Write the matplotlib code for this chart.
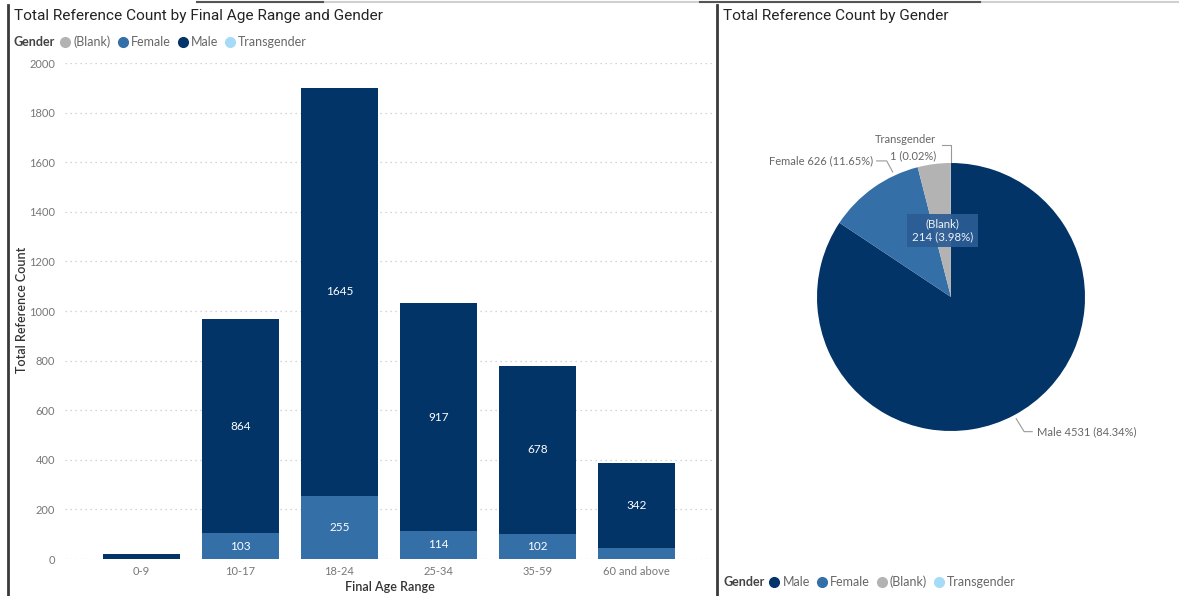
import matplotlib
matplotlib.use("Agg")
import matplotlib.pyplot as plt
import numpy as np
from matplotlib.lines import Line2D

# data
age_ranges = ["0-9", "10-17", "18-24", "25-34", "35-59", "60 and above"]
female_counts = [0, 103, 255, 114, 102, 45]
male_counts = [22, 864, 1645, 917, 678, 342]

pie_labels = ["Male", "Female", "(Blank)", "Transgender"]
pie_values = [4531, 626, 214, 1]

legend_left = ["(Blank)", "Female", "Male", "Transgender"]
legend_right = ["Male", "Female", "(Blank)", "Transgender"]

colors = {"Male": "#033468", "Female": "#346FA7", "(Blank)": "#B3B3B3",
          "Transgender": "#A6DBF8"}

W, H = 1179, 596
plt.rcParams["font.family"] = ["Lato", "DejaVu Sans"]

fig = plt.figure(figsize=(W / 100, H / 100), dpi=100)


def fx(x):
    return x / W


def fy(y):
    return 1 - y / H


# panel frames
for x0 in (8, 717):
    fig.add_artist(Line2D([fx(x0), fx(x0)], [fy(5), fy(H)], color="#3a3a3a", lw=2))
fig.add_artist(Line2D([fx(197), fx(1179)], [fy(2), fy(2)], color="#d0d0d0", lw=1.5))
fig.add_artist(Line2D([fx(197), fx(323)], [fy(2), fy(2)], color="#555555", lw=1.5))
fig.add_artist(Line2D([fx(700), fx(980)], [fy(2), fy(2)], color="#555555", lw=1.5))

title_kw = dict(fontsize=11.1, color="#252423", va="center", family=["Roboto", "DejaVu Sans"])
fig.text(fx(14), fy(16), "Total Reference Count by Final Age Range and Gender", **title_kw)
fig.text(fx(723), fy(16), "Total Reference Count by Gender", **title_kw)

# ---- stacked bar chart
ax = fig.add_axes([fx(65), fy(559), fx(712) - fx(65), fy(63) - fy(559)])
x = np.arange(len(age_ranges))
bw = 0.78
ax.bar(x, female_counts, bw, color=colors["Female"], zorder=2)
ax.bar(x, male_counts, bw, bottom=female_counts, color=colors["Male"], zorder=2)
for i in range(len(x)):
    for val, bottom in ((female_counts[i], 0), (male_counts[i], female_counts[i])):
        if val >= 60:
            ax.text(x[i], bottom + val / 2, str(val), ha="center", va="center",
                    color="white", fontsize=8.5)
ax.set_xlim(-0.77, 5.76)
ax.set_ylim(0, 2000)
ax.set_yticks(np.arange(0, 2001, 200))
ax.set_xticks(x)
ax.set_xticklabels(age_ranges)
ax.tick_params(length=0, labelsize=8, labelcolor="#777777")
ax.tick_params(axis="y", pad=7)
ax.tick_params(axis="x", pad=5)
ax.grid(axis="y", color="#c8c8c8", linestyle=(0, (1, 3)), lw=0.9, zorder=0)
for s in ax.spines.values():
    s.set_visible(False)

fig.text(fx(22), fy(310), "Total Reference Count", rotation=90, ha="center", va="center",
         fontsize=9, color="#333333", fontweight="semibold")
fig.text(fx(390), fy(587), "Final Age Range", ha="center", va="center",
         fontsize=9, color="#333333", fontweight="semibold")


def legend_row(x_title, y, names):
    fig.text(fx(x_title), fy(y), "Gender", fontsize=9, fontweight="bold",
             color="#444444", va="center")
    handles = [Line2D([], [], marker="o", ls="", ms=7, mfc=colors[n], mec=colors[n])
               for n in names]
    fig.legend(handles, names, loc="center left", bbox_to_anchor=(fx(x_title + 47), fy(y)),
               ncol=4, frameon=False, handlelength=0.7, handletextpad=0.3,
               columnspacing=0.6, borderpad=0, borderaxespad=0, fontsize=9,
               labelcolor="#666666")


legend_row(14, 42, legend_left)
legend_row(723, 582, legend_right)

# ---- pie chart
cx, cy, r = 951, 297, 134
axp = fig.add_axes([fx(cx - r), fy(cy + r), 2 * r / W, 2 * r / H])
wedges, _ = axp.pie(pie_values, colors=[colors[n] for n in pie_labels], startangle=90,
                    counterclock=False, radius=1, wedgeprops=dict(linewidth=0))
axp.set_xlim(-1, 1)
axp.set_ylim(-1, 1)
axp.set_aspect("equal")
axp.axis("off")

total = sum(pie_values)
pct = [v / total * 100 for v in pie_values]
lbl_kw = dict(fontsize=8, color="#666666", va="center")
lead_kw = dict(color="#999999", lw=0.8, clip_on=False)
u = 1 / r  # one pixel in pie units

# Male
t = np.deg2rad((wedges[0].theta1 + wedges[0].theta2) / 2)
p0 = np.array([np.cos(t), np.sin(t)]) * 1.03
p1 = p0 + [8 * u, -13 * u]
p2 = p1 + [8 * u, 0]
axp.plot([p0[0], p1[0], p2[0]], [p0[1], p1[1], p2[1]], **lead_kw)
axp.text(p2[0] + 5 * u, p2[1], f"Male {pie_values[0]} ({pct[0]:.2f}%)", ha="left", **lbl_kw)

# Female
t = np.deg2rad(115)
p0 = np.array([np.cos(t), np.sin(t)]) * 1.03
p1 = p0 + [-6 * u, 11 * u]
p2 = p1 + [-10 * u, 0]
axp.plot([p0[0], p1[0], p2[0]], [p0[1], p1[1], p2[1]], **lead_kw)
axp.text(p2[0] - 4 * u, p2[1], f"Female {pie_values[1]} ({pct[1]:.2f}%)", ha="right", **lbl_kw)

# Transgender
t = np.deg2rad(wedges[3].theta2)
p0 = np.array([np.cos(t), np.sin(t)]) * 1.01
p1 = p0 + [0, 17 * u]
p2 = p1 + [-9 * u, 0]
axp.plot([p0[0], p1[0], p2[0]], [p0[1], p1[1], p2[1]], **lead_kw)
axp.text(p2[0] - 6 * u, p2[1] + 5 * u, "Transgender", ha="right", **lbl_kw)
axp.text(p2[0] - 6 * u, p2[1] - 11 * u, f"{pie_values[3]} ({pct[3]:.2f}%)", ha="right", **lbl_kw)

# (Blank) label inside
t = np.deg2rad((wedges[2].theta1 + wedges[2].theta2) / 2)
axp.text(0.5 * np.cos(t), 0.5 * np.sin(t), f"(Blank)\n{pie_values[2]} ({pct[2]:.2f}%)",
         ha="center", va="center", fontsize=8.3, color="#eef2f7", linespacing=1.25,
         bbox=dict(boxstyle="square,pad=0.4", fc="#2C5C94", ec="none", alpha=0.92))

fig.savefig("out.png", dpi=100)
